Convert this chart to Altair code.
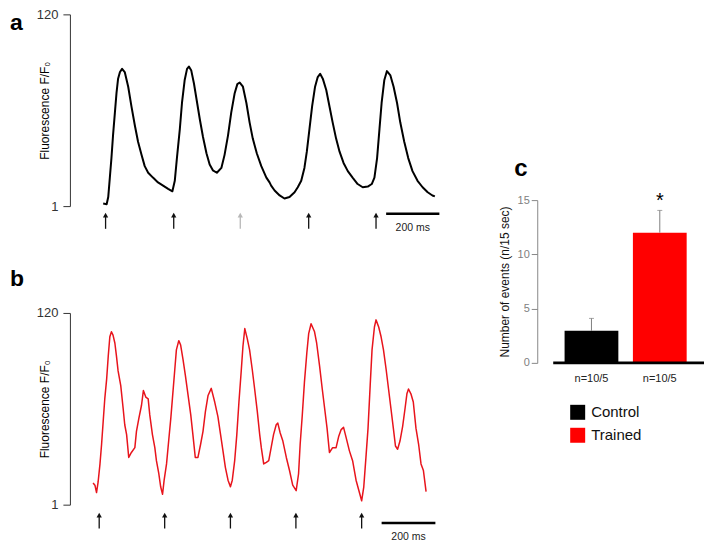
import altair as alt
import pandas as pd

FONT = "Liberation Sans"

# ---------------- data ----------------
# panel a: control cell, Ca2+ transients (time in ms, F/F0)
trace_a = [(125,2.6),(138,2.2),(144,6.6),(150,18.7),(156,30.8),(162,44.9),(169,59.0),(175,71.1),(181,80.1),(188,84.2),
           (196,86.2),(206,84.2),(219,75.1),(231,63.0),(244,51.0),(256,40.9),(269,32.8),(281,25.8),(294,21.7),(312,18.7),
           (331,15.7),(350,13.7),(369,11.7),(385,10.2),(394,16.7),(402,30.8),(413,48.9),(421,65.0),(431,79.1),(440,86.2),
           (447,87.6),(456,85.1),(466,77.1),(476,67.0),(488,54.9),(500,43.9),(513,33.8),(525,26.8),(537,23.2),(552,21.7),
           (569,24.7),(581,32.8),(594,44.9),(606,59.0),(619,71.1),(629,76.7),(638,77.7),(650,75.1),(663,65.0),(675,53.0),
           (687,42.9),(702,33.8),(719,25.8),(738,18.7),(750,15.7),(756,13.7),(769,10.7),(788,7.6),(806,5.7),(825,6.6),
           (844,9.6),(856,12.7),(869,16.7),(881,24.7),(890,34.8),(900,48.9),(910,63.0),(921,75.1),(931,81.1),(940,83.1),
           (950,80.1),(963,73.1),(975,63.0),(987,53.0),(1000,42.9),(1013,34.8),(1028,27.8),(1044,22.7),(1062,18.7),(1081,14.7),
           (1100,12.7),(1119,13.1),(1134,14.7),(1144,18.7),(1154,30.8),(1163,48.9),(1171,65.0),(1181,79.1),(1191,84.8),(1204,82.1),
           (1216,75.1),(1229,65.0),(1241,53.0),(1256,40.9),(1271,30.8),(1287,22.7),(1306,16.7),(1325,12.7),(1344,9.6),(1362,7.6),
           (1371,7.0)]

# panel b: trained cell
trace_b = [(87,14.5),(94,13.1),(100,8.5),(106,15.1),(113,26.3),(119,38.5),(125,52.6),(131,66.7),(138,78.9),(144,93.1),
           (150,105.2),(156,108.3),(162,106.2),(169,101.2),(175,93.1),(181,84.0),(191,74.9),(200,60.7),(206,50.6),(213,44.5),
           (221,30.3),(231,33.4),(244,36.4),(250,46.5),(259,54.6),(269,62.7),(276,71.8),(285,67.8),(294,66.7),(300,56.7),
           (310,44.5),(319,36.4),(325,28.3),(334,20.2),(341,12.1),(348,7.5),(354,16.2),(363,26.3),(371,40.5),(379,54.6),
           (385,66.7),(394,84.9),(400,97.1),(409,102.8),(416,100.1),(425,91.0),(434,80.9),(444,68.8),(454,56.7),(462,44.5),
           (471,30.3),(481,30.3),(491,38.5),(500,46.5),(509,58.7),(519,68.8),(531,73.2),(544,64.7),(556,55.6),(566,44.5),
           (575,34.4),(584,24.2),(594,16.2),(603,12.1),(610,16.2),(619,28.3),(627,44.5),(635,64.7),(644,84.9),(650,99.2),
           (657,110.3),(666,104.2),(675,97.1),(685,84.9),(694,72.8),(704,58.7),(713,44.5),(719,36.4),(728,26.3),(738,27.3),
           (747,28.3),(756,36.4),(765,44.5),(775,50.6),(781,51.6),(790,45.5),(800,40.5),(813,30.3),(825,22.2),(837,13.1),
           (850,9.7),(859,20.2),(865,38.5),(873,56.7),(881,76.9),(890,95.1),(897,107.2),(906,113.3),(919,108.3),(927,101.2),
           (938,87.0),(948,72.8),(957,60.7),(966,48.5),(975,33.4),(987,36.4),(1000,36.4),(1010,43.5),(1019,47.6),(1028,49.0),
           (1038,42.5),(1050,34.4),(1062,28.3),(1075,16.2),(1085,10.1),(1096,3.4),(1104,12.1),(1113,32.4),(1120,48.5),(1128,74.9),
           (1135,97.1),(1144,111.3),(1150,115.7),(1160,111.3),(1169,105.2),(1178,97.1),(1188,84.9),(1197,72.8),(1206,60.7),(1215,48.5),
           (1223,37.4),(1231,35.4),(1240,40.5),(1250,49.6),(1259,60.7),(1266,69.8),(1272,72.8),(1281,69.8),(1290,64.7),(1300,48.5),
           (1310,38.5),(1319,26.3),(1328,22.2),(1338,9.1)]

# stimulation arrows (ms)
stim_a = [134, 390, 640, 897, 1150]
stim_a_colors = ["#111111", "#111111", "#b8b8b8", "#111111", "#111111"]
stim_b = [110, 356, 603, 849, 1096]
stim_b_colors = ["#111111"] * 5

# 200 ms scale bars
scalebar_a = [1188, 1388]
scalebar_b = [1171, 1373]
scalebar_label = "200 ms"

trace_ticks = [1, 120]
trace_title = "Fluorescence F/F\u2080"
XMAX = 1388

# panel c: number of events
groups = ["Control", "Trained"]
events_mean = [2.95, 12.0]
events_sem = [1.15, 2.05]
n_labels = ["n=10/5", "n=10/5"]
signif = ["", "*"]
group_colors = ["#000000", "#ff0000"]
c_ticks = [0, 5, 10, 15]


# ---------------- charts ----------------
def trace_panel(trace, color, lw, stim, stim_colors, bar, letter, height,
                head_y, tail_y, bar_y, text_y, letter_y):
    xs = alt.Scale(domain=[0, XMAX], nice=False, zero=False)
    ys = alt.Scale(domain=[1, 120], nice=False, zero=False)
    yaxis = alt.Axis(
        values=trace_ticks, title=trace_title, grid=False, tickSize=7, labelPadding=5,
        labelFontSize=13, labelColor="#333333", domainColor="#333333", tickColor="#333333",
        titleFontSize=12, titleFontWeight="normal", titleColor="#000000",
        titleX=-18, titleY=height / 2, titleBaseline="bottom")
    df = pd.DataFrame(trace, columns=["t", "f"])
    line = alt.Chart(df).mark_line(color=color, strokeWidth=lw, strokeJoin="round").encode(
        x=alt.X("t:Q", scale=xs, axis=None),
        y=alt.Y("f:Q", scale=ys, axis=yaxis),
    )
    ar = pd.DataFrame({"t": stim, "c": stim_colors, "h": [head_y] * len(stim), "b": [tail_y] * len(stim)})
    heads = alt.Chart(ar).mark_point(shape="triangle-up", filled=True, size=28, opacity=1, strokeWidth=0).encode(
        x=alt.X("t:Q", scale=xs, axis=None),
        y=alt.Y("h:Q", scale=ys, axis=yaxis),
        fill=alt.Fill("c:N", scale=None),
    )
    shafts = alt.Chart(ar).mark_rule(strokeWidth=1.3).encode(
        x=alt.X("t:Q", scale=xs, axis=None),
        y=alt.Y("h:Q", scale=ys, axis=yaxis),
        y2="b:Q",
        stroke=alt.Stroke("c:N", scale=None),
    )
    sb = pd.DataFrame({"t0": [bar[0]], "t1": [bar[1]], "tm": [(bar[0] + bar[1]) / 2],
                       "y": [bar_y], "ty": [text_y], "label": [scalebar_label]})
    sbar = alt.Chart(sb).mark_rule(strokeWidth=2.5, color="#000000").encode(
        x=alt.X("t0:Q", scale=xs, axis=None), x2="t1:Q",
        y=alt.Y("y:Q", scale=ys, axis=yaxis),
    )
    stext = alt.Chart(sb).mark_text(fontSize=10.5, color="#222222", font=FONT).encode(
        x=alt.X("tm:Q", scale=xs, axis=None),
        y=alt.Y("ty:Q", scale=ys, axis=yaxis),
        text="label:N",
    )
    lab = alt.Chart(pd.DataFrame({"l": [letter]})).mark_text(
        fontSize=23, fontWeight="bold", align="left", baseline="alphabetic", font=FONT, color="#000000"
    ).encode(x=alt.value(-60), y=alt.value(letter_y), text="l:N")
    return alt.layer(line, heads, shafts, sbar, stext, lab).properties(width=370, height=height)


panel_a = trace_panel(trace_a, "#000000", 2, stim_a, stim_a_colors, scalebar_a, "a", 192,
                      -4.6, -13.1, -3.8, -12.5, 16)
panel_b = trace_panel(trace_b, "#e8141c", 1.5, stim_b, stim_b_colors, scalebar_b, "b", 192,
                      -5.5, -13.8, -10.4, -18.9, -27)

left = alt.vconcat(panel_a, panel_b, spacing=34)

dfc = pd.DataFrame({"g": groups, "v": events_mean, "top": [m + s for m, s in zip(events_mean, events_sem)],
                    "n": n_labels, "s": signif})
dfc["sy"] = dfc["top"] + 0.9
xs_c = alt.Scale(domain=groups, paddingInner=0.213, paddingOuter=0.21, align=0.396)
ys_c = alt.Scale(domain=[0, 15], nice=False, zero=True)
label_expr = " : ".join(f"datum.value == '{g}' ? '{n}'" for g, n in zip(groups, n_labels)) + " : ''"

bars = alt.Chart(dfc).mark_bar().encode(
    x=alt.X("g:N", scale=xs_c, axis=alt.Axis(title=None, domain=False, ticks=False, labelAngle=0,
                                             labelExpr=label_expr, labelPadding=10, labelFontSize=11,
                                             labelColor="#222222", labelFont=FONT)),
    y=alt.Y("v:Q", scale=ys_c, axis=alt.Axis(values=c_ticks, offset=16, grid=False, tickSize=6,
                                             title="Number of events (n/15 sec)", domainColor="#888888",
                                             tickColor="#888888", labelColor="#808080", labelFontSize=11,
                                             titleFontSize=12, titleFontWeight="normal", titleColor="#111111",
                                             titlePadding=6)),
    color=alt.Color("g:N", scale=alt.Scale(domain=groups, range=group_colors),
                    legend=alt.Legend(orient="none", legendX=17, legendY=205, title=None,
                                      symbolType="square", symbolSize=225, symbolStrokeWidth=0,
                                      labelFontSize=15, labelColor="#111111", labelOffset=6,
                                      rowPadding=7, labelFont=FONT)),
)
err = alt.Chart(dfc).mark_rule(color="#808080", strokeWidth=1).encode(
    x=alt.X("g:N", scale=xs_c), y=alt.Y("v:Q", scale=ys_c), y2="top:Q")
cap = alt.Chart(dfc).mark_tick(color="#808080", thickness=1, size=5).encode(
    x=alt.X("g:N", scale=xs_c), y=alt.Y("top:Q", scale=ys_c))
base = alt.Chart(pd.DataFrame({"z": [0]})).mark_rule(color="#000000", strokeWidth=3).encode(
    y=alt.Y("z:Q", scale=ys_c))
star = alt.Chart(dfc).mark_text(fontSize=20, baseline="middle", font=FONT, color="#000000").encode(
    x=alt.X("g:N", scale=xs_c), y=alt.Y("sy:Q", scale=ys_c), text="s:N")
clab = alt.Chart(pd.DataFrame({"l": ["c"]})).mark_text(
    fontSize=24, fontWeight="bold", align="left", baseline="alphabetic", font=FONT, color="#000000"
).encode(x=alt.value(-39), y=alt.value(-24), text="l:N")

panel_c = alt.layer(bars, err, cap, base, star, clab).properties(width=151, height=163)

spacer = alt.Chart(pd.DataFrame({"v": [0]})).mark_point(size=0, opacity=0).encode(
    x=alt.value(0), y=alt.value(0)).properties(width=10, height=143)

right = alt.vconcat(spacer, panel_c, spacing=0).resolve_scale(color="independent").resolve_legend(color="independent")

chart = alt.hconcat(left, right, spacing=56).resolve_scale(color="independent").resolve_legend(
    color="independent").properties(
    padding={"left": 2, "top": 0, "right": 0, "bottom": 0}
).configure(font=FONT).configure_view(stroke=None)

chart.save("out.html", embed_options={"renderer": "svg", "actions": False})
